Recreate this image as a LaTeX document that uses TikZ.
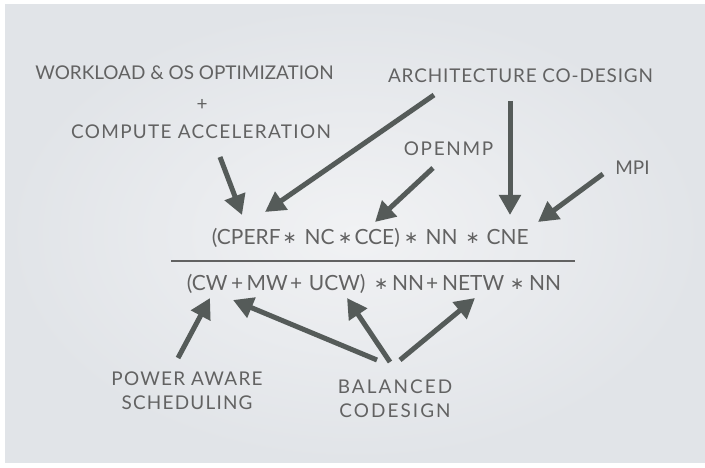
\documentclass[tikz,border=0pt]{standalone}
\usepackage{fontspec}
\setmainfont{Lato}
\newfontfamily\djv{DejaVu Sans}
\usetikzlibrary{arrows.meta}
\definecolor{txtgray}{HTML}{626262}
\definecolor{arrgray}{HTML}{555B59}
\definecolor{bgin}{HTML}{F1F2F4}
\definecolor{bgout}{HTML}{E1E4E8}
% token centred at an absolute offset
\newcommand\ctok[2]{\rlap{\hspace*{#1bp}\makebox[0pt][c]{#2}}}
\newcommand\fstar{\raisebox{1bp}{\djv\fontsize{17}{17}\selectfont ∗}}
\tikzset{
  lbl/.style={text=txtgray, inner sep=0pt, align=center,
    font=\fontsize{19}{24}\selectfont\addfontfeature{LetterSpace=#1}},
  lbl/.default=0,
  frm/.style={text=txtgray, inner sep=0pt, anchor=base west,
    font=\fontsize{21}{24}\selectfont},
  arr/.style={draw=arrgray, line width=5bp, -{Triangle[length=20bp,width=21bp]}}
}
\begin{document}
\begin{tikzpicture}[x=1bp,y=-1bp]
\useasboundingbox (0,0) rectangle (705,468);
\fill[white] (0,0) rectangle (705,468);
\shade[inner color=bgin, outer color=bgout] (5,5) rectangle (705,462);
% labels
\node[lbl] (work) at (184.5,73) {WORKLOAD \& OS OPTIMIZATION};
\node[lbl] (plus) at (202,105) {+};
\node[lbl=7] (comp) at (201,132) {COMPUTE ACCELERATION};
\node[lbl=4.5] (arch) at (520.5,76) {ARCHITECTURE CO-DESIGN};
\node[lbl=9] (openmp) at (448.5,149) {OPENMP};
\node[lbl] (mpi) at (632.5,168) {MPI};
\node[lbl=6.5] (power) at (187,391) {POWER AWARE\\SCHEDULING};
\node[lbl=11] (bal) at (395,399) {BALANCED\\CODESIGN};
% formula
\node[frm] (num) at (211,244.5) {\ctok{35}{(CPERF}\ctok{78.5}{\fstar}\ctok{108.5}{NC}\ctok{134}{\fstar}\ctok{166}{CCE)}\ctok{200}{\fstar}\ctok{230.5}{NN}\ctok{261.5}{\fstar}\ctok{296.5}{CNE}\hspace*{319bp}};
\node[frm] (den) at (190,291) {\ctok{17}{(CW}\ctok{47}{+}\ctok{77}{MW}\ctok{106}{+}\ctok{147}{UCW)}\ctok{191}{\fstar}\ctok{218}{NN}\ctok{242}{+}\ctok{283}{NETW}\ctok{327}{\fstar}\ctok{355}{NN}\hspace*{377bp}};
\coordinate (fl) at (171,261);
\coordinate (fr) at (575,261);
\draw[txtgray, line width=1.5bp] (fl) -- (fr);
% arrow endpoints
\coordinate (t1) at (220,157); \coordinate (h1) at (242,215);
\coordinate (t2) at (434,95);  \coordinate (h2) at (265,212);
\coordinate (t3) at (433,168); \coordinate (h3) at (375,222);
\coordinate (t4) at (510,101); \coordinate (h4) at (510,215);
\coordinate (t5) at (603,174); \coordinate (h5) at (538,222);
\coordinate (t6) at (178,358); \coordinate (h6) at (210,298);
\coordinate (t7) at (377,360); \coordinate (h7) at (233,300);
\coordinate (t8) at (390,362); \coordinate (h8) at (347,298);
\coordinate (t9) at (400,360); \coordinate (h9) at (475,298);
\foreach \i in {1,...,9} \draw[arr] (t\i) -- (h\i);
\end{tikzpicture}
\end{document}
